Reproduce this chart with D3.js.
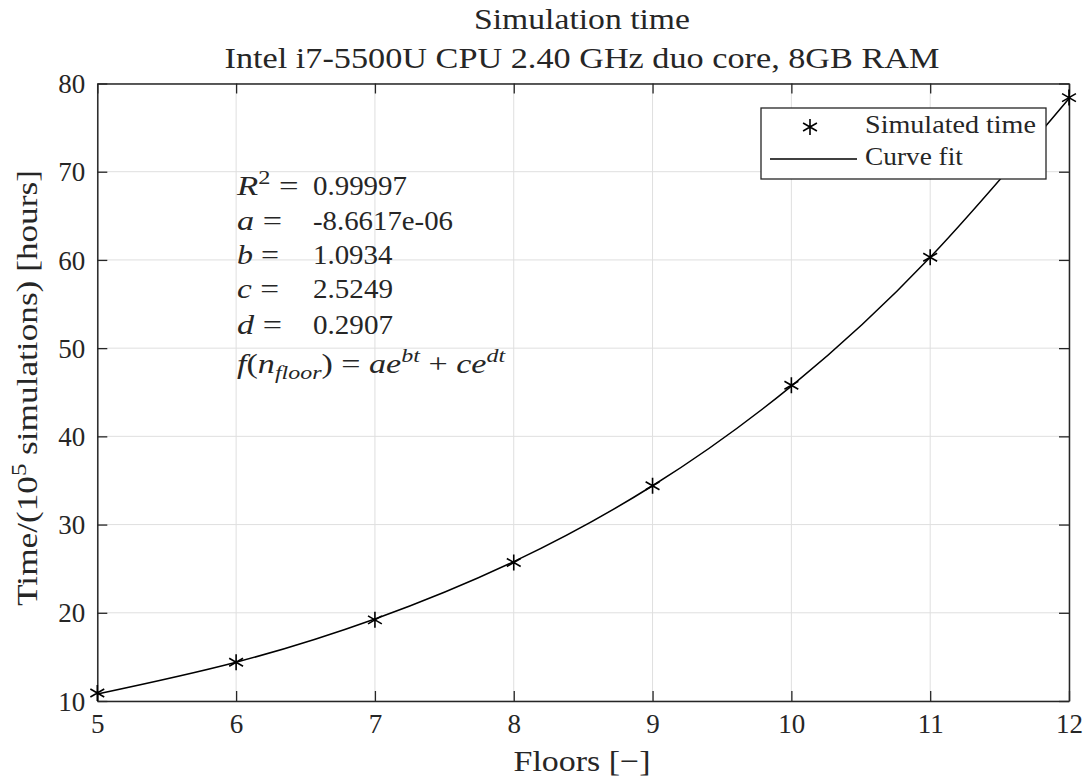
<!DOCTYPE html>
<html>
<head>
<meta charset="utf-8">
<script src="https://cdn.jsdelivr.net/npm/d3@7"></script>
<style>
  html, body { margin: 0; padding: 0; background: #fff; }
  svg { display: block; }
  text { font-family: "Liberation Serif", "DejaVu Serif", serif; fill: #262626; }
</style>
</head>
<body>
<svg id="chart" width="1086" height="777"></svg>
<script>
// ---- data ----
const floors = [5, 6, 7, 8, 9, 10, 11, 12];
const simulatedTime = [10.9, 14.4, 19.2, 25.7, 34.4, 45.8, 60.3, 78.4];
const fitTime = [10.8, 14.4, 19.3, 25.8, 34.4, 45.7, 60.3, 78.3];
const xTicks = [5, 6, 7, 8, 9, 10, 11, 12];
const yTicks = [10, 20, 30, 40, 50, 60, 70, 80];
const fitParams = [
  { name: "a", value: "-8.6617e-06" },
  { name: "b", value: "1.0934" },
  { name: "c", value: "2.5249" },
  { name: "d", value: "0.2907" }
];
const rSquared = "0.99997";
const titleLines = ["Simulation time", "Intel i7-5500U CPU 2.40 GHz duo core, 8GB RAM"];

// ---- layout ----
const svg = d3.select("#chart");
const L = 97.3, R = 1069, T = 83.5, B = 701;
const x = d3.scaleLinear().domain([5, 12]).range([L, R]);
const y = d3.scaleLinear().domain([10, 80]).range([B, T]);
const axisColor = "#262626";
const gridColor = "#dfdfdf";

function fitWidth(g, target) {
  const bb = g.node().getBBox();
  const k = target / bb.width;
  const tr = g.attr("data-tr") || "";
  g.attr("transform", tr + ` scale(${k},1)`);
}
function textGroup(parent, tx, ty, rot) {
  const tr = `translate(${tx},${ty})` + (rot ? ` rotate(${rot})` : "");
  return parent.append("g").attr("data-tr", tr).attr("transform", tr);
}

// grid
const grid = svg.append("g");
grid.selectAll("line.gx").data(xTicks).join("line")
  .attr("x1", d => x(d)).attr("x2", d => x(d)).attr("y1", T).attr("y2", B)
  .attr("stroke", gridColor).attr("stroke-width", 1);
grid.selectAll("line.gy").data(yTicks).join("line")
  .attr("y1", d => y(d)).attr("y2", d => y(d)).attr("x1", L).attr("x2", R)
  .attr("stroke", gridColor).attr("stroke-width", 1);

// axes (box with inward ticks on all sides)
const tickLen = 10;
const ax = svg.append("g");
const xB = ax.append("g").attr("transform", `translate(0,${B})`)
  .call(d3.axisBottom(x).tickValues(xTicks).tickSizeInner(-tickLen).tickSizeOuter(0).tickPadding(12).tickFormat(d3.format("d")));
const xT = ax.append("g").attr("transform", `translate(0,${T})`)
  .call(d3.axisTop(x).tickValues(xTicks).tickSizeInner(-tickLen).tickSizeOuter(0).tickFormat(""));
const yL = ax.append("g").attr("transform", `translate(${L},0)`)
  .call(d3.axisLeft(y).tickValues(yTicks).tickSizeInner(-tickLen).tickSizeOuter(0).tickPadding(12).tickFormat(d3.format("d")));
const yR = ax.append("g").attr("transform", `translate(${R},0)`)
  .call(d3.axisRight(y).tickValues(yTicks).tickSizeInner(-tickLen).tickSizeOuter(0).tickFormat(""));
ax.selectAll(".domain").attr("stroke", axisColor).attr("stroke-width", 1.5);
ax.selectAll(".tick line").attr("stroke", axisColor).attr("stroke-width", 1.3);
ax.selectAll(".tick text").attr("fill", axisColor).style("font-family", '"Liberation Serif", serif').style("font-size", "27px");
xB.selectAll(".tick text").attr("dy", null).attr("y", 32);
yL.selectAll(".tick text").attr("dy", "0.34em").attr("x", -12);

// fit curve
const line = d3.line().x((d, i) => x(floors[i])).y(d => y(d)).curve(d3.curveNatural);
svg.append("path").datum(fitTime).attr("d", line)
  .attr("fill", "none").attr("stroke", "#000").attr("stroke-width", 1.5);

// asterisk markers
const r = 8;
const c30 = Math.cos(Math.PI / 6) * r, s30 = Math.sin(Math.PI / 6) * r;
const starPath = `M0,${-r}L0,${r}M${-c30},${-s30}L${c30},${s30}M${-c30},${s30}L${c30},${-s30}`;
svg.append("g").selectAll("path").data(simulatedTime).join("path")
  .attr("transform", (d, i) => `translate(${x(floors[i])},${y(d)})`)
  .attr("d", starPath).attr("fill", "none").attr("stroke", "#000").attr("stroke-width", 1.6);

// title
titleLines.forEach((t, i) => {
  const g = textGroup(svg, 582, i === 0 ? 29 : 68);
  g.append("text").attr("text-anchor", "middle").style("font-size", "29px").attr("fill", "#000").text(t);
  fitWidth(g, i === 0 ? 216 : 715);
});

// x label
{
  const g = textGroup(svg, 582, 771);
  g.append("text").attr("text-anchor", "middle").style("font-size", "30px").attr("fill", "#000")
    .text("Floors [\u2212]");
  fitWidth(g, 137);
}
// y label
{
  const g = textGroup(svg, 37, 388, -90);
  const t = g.append("text").attr("text-anchor", "middle").style("font-size", "30px").attr("fill", "#000");
  t.append("tspan").text("Time/(10");
  t.append("tspan").attr("dy", -11).style("font-size", "21px").text("5");
  t.append("tspan").attr("dy", 11).text(" simulations) [hours]");
  fitWidth(g, 436);
}

// annotation
const annX = 237, valX = 313;
const baselines = [195, 230, 264, 298, 334];
{
  const g = textGroup(svg, annX, baselines[0]);
  const t = g.append("text").style("font-size", "27px").attr("fill", "#000");
  t.append("tspan").style("font-style", "italic").text("R");
  t.append("tspan").attr("dy", -11).style("font-size", "19px").text("2");
  t.append("tspan").attr("dy", 11).text(" =");
  fitWidth(g, 63);
  const gv = textGroup(svg, valX, baselines[0]);
  gv.append("text").style("font-size", "27px").attr("fill", "#000").text(rSquared);
  fitWidth(gv, 94);
}
const valWidths = [140, 80, 80, 80];
const lblWidths = [45, 42, 42, 45];
fitParams.forEach((p, i) => {
  const g = textGroup(svg, annX, baselines[i + 1]);
  const t = g.append("text").style("font-size", "27px").attr("fill", "#000");
  t.append("tspan").style("font-style", "italic").text(p.name);
  t.append("tspan").text(" =");
  fitWidth(g, lblWidths[i]);
  const gv = textGroup(svg, valX, baselines[i + 1]);
  gv.append("text").style("font-size", "27px").attr("fill", "#000").text(p.value);
  fitWidth(gv, valWidths[i]);
});
{
  const g = textGroup(svg, annX, 373);
  const t = g.append("text").style("font-size", "27px").attr("fill", "#000");
  t.append("tspan").style("font-style", "italic").text("f");
  t.append("tspan").text("(");
  t.append("tspan").style("font-style", "italic").text("n");
  t.append("tspan").attr("dy", 6).style("font-size", "19px").style("font-style", "italic").text("floor");
  t.append("tspan").attr("dy", -6).text(") = ");
  t.append("tspan").style("font-style", "italic").text("ae");
  t.append("tspan").attr("dy", -11).style("font-size", "19px").style("font-style", "italic").text("bt");
  t.append("tspan").attr("dy", 11).text(" + ");
  t.append("tspan").style("font-style", "italic").text("ce");
  t.append("tspan").attr("dy", -11).style("font-size", "19px").style("font-style", "italic").text("dt");
  fitWidth(g, 269);
}

// legend
const leg = svg.append("g");
leg.append("rect").attr("x", 761).attr("y", 108).attr("width", 285).attr("height", 71)
  .attr("fill", "#fff").attr("stroke", axisColor).attr("stroke-width", 1.3);
leg.append("path").attr("transform", "translate(810,127)").attr("d", starPath)
  .attr("fill", "none").attr("stroke", "#000").attr("stroke-width", 1.6);
leg.append("line").attr("x1", 770).attr("x2", 857).attr("y1", 159).attr("y2", 159)
  .attr("stroke", "#000").attr("stroke-width", 1.5);
[["Simulated time", 133, 171], ["Curve fit", 165, 98]].forEach(([s, by, w]) => {
  const g = textGroup(leg, 865, by);
  g.append("text").style("font-size", "25px").attr("fill", "#000").text(s);
  fitWidth(g, w);
});
</script>
</body>
</html>
